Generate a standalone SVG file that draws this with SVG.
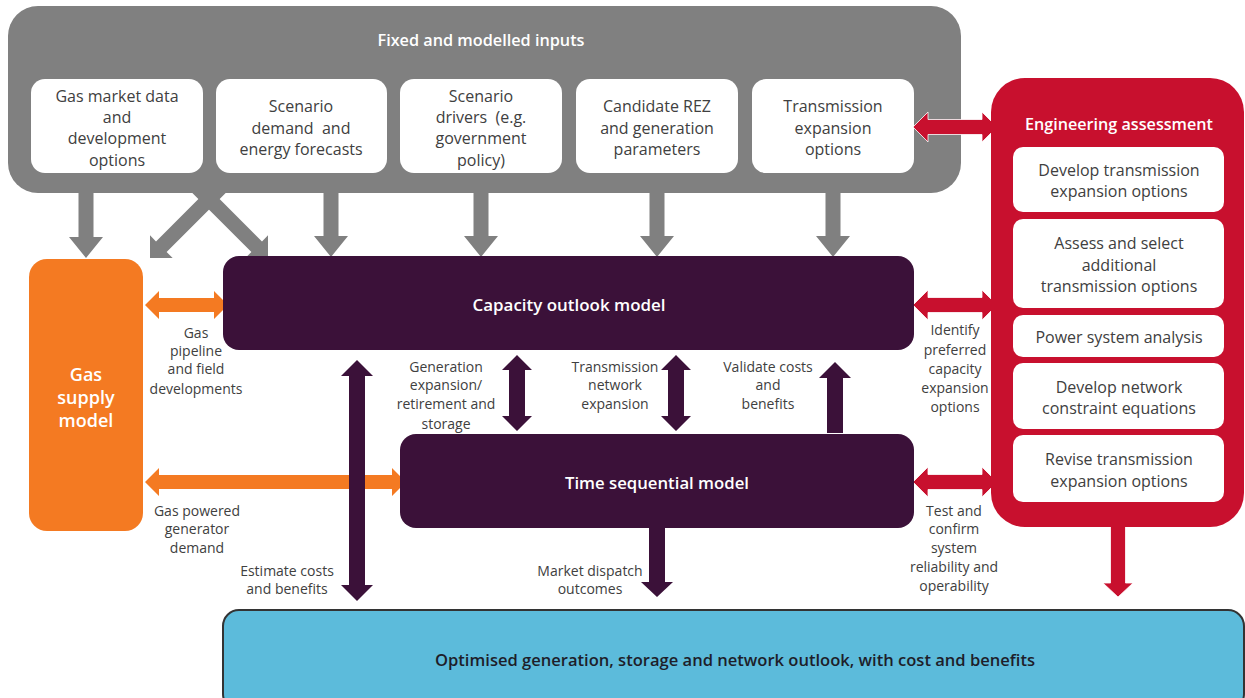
<svg xmlns="http://www.w3.org/2000/svg" width="1245" height="698" viewBox="0 0 1245 698">
<style>
.t{font-family:"Open Sans","Noto Sans",sans-serif;text-anchor:middle}
.box{font-size:16px;fill:#404040}
.lbl{font-size:14px;fill:#404040}
.ttl{font-size:17px;font-weight:600;fill:#ffffff}
.wb{fill:#ffffff}
.gray{fill:#808080}
.pur{fill:#3b1139}
.org{fill:#f47a22}
.red{fill:#c8102e;stroke:#ffffff;stroke-width:0.8}
</style>
<defs>
<path id="gdown" d="M-7.5,-66 H7.5 V-21 H17 L0,0 L-17,-21 H-7.5 Z"/>
<path id="gdiag" d="M-7.5,-125 H7.5 V-16 H16 L0,0 L-16,-16 H-7.5 Z"/>
</defs>
<rect width="1245" height="698" fill="#ffffff"/>

<g id="inputs">
<rect x="8" y="6" width="953" height="187" rx="30" class="gray"/>
<g id="connectors-gray" class="gray">
<use href="#gdiag" transform="translate(150,258) rotate(45)"/>
<use href="#gdiag" transform="translate(268,258) rotate(-45)"/>
</g>
<text x="481" y="46" class="t ttl" textLength="207" lengthAdjust="spacingAndGlyphs">Fixed and modelled inputs</text>
</g>

<g id="in-gas">
<rect x="31" y="79" width="172" height="94" rx="14" class="wb"/>
<text class="t box"><tspan x="117" y="102">Gas market data</tspan><tspan x="117" y="123">and</tspan><tspan x="117" y="144">development</tspan><tspan x="117" y="166">options</tspan></text>
</g>
<g id="in-demand">
<rect x="216" y="79" width="171" height="94" rx="14" class="wb"/>
<text class="t box" style="white-space:pre"><tspan x="301" y="112">Scenario</tspan><tspan x="301" y="134">demand  and</tspan><tspan x="301" y="155">energy forecasts</tspan></text>
</g>
<g id="in-drivers">
<rect x="400" y="79" width="162" height="94" rx="14" class="wb"/>
<text class="t box" style="white-space:pre"><tspan x="481" y="102">Scenario</tspan><tspan x="481" y="123">drivers  (e.g.</tspan><tspan x="481" y="144">government</tspan><tspan x="481" y="166">policy)</tspan></text>
</g>
<g id="in-rez">
<rect x="576" y="79" width="162" height="94" rx="14" class="wb"/>
<text class="t box"><tspan x="657" y="112">Candidate REZ</tspan><tspan x="657" y="134">and generation</tspan><tspan x="657" y="155">parameters</tspan></text>
</g>
<g id="in-trans">
<rect x="752" y="79" width="162" height="94" rx="14" class="wb"/>
<text class="t box"><tspan x="833" y="112">Transmission</tspan><tspan x="833" y="134">expansion</tspan><tspan x="833" y="155">options</tspan></text>
</g>

<g id="connectors">
<g class="gray">
<use href="#gdown" transform="translate(86,258)"/>
<use href="#gdown" transform="translate(331,257)"/>
<use href="#gdown" transform="translate(481,257)"/>
<use href="#gdown" transform="translate(657,257)"/>
<use href="#gdown" transform="translate(833,257)"/>
</g>
<g class="org">
<path d="M145,305 L159,291 V298 H214 V291 L228,305 L214,319 V312 H159 V319 Z"/>
<path d="M145,482 L159,468 V475 H392 V468 L406,482 L392,496 V489 H159 V496 Z"/>
</g>
<g class="red">
<path d="M913,127 L928,112 V119.5 H982 V112 L997,127 L982,142 V134.5 H928 V142 Z"/>
<path d="M913,305 L928,290 V297.5 H982 V290 L997,305 L982,320 V312.5 H928 V320 Z"/>
<path d="M913,482 L928,467 V474.5 H982 V467 L997,482 L982,497 V489.5 H928 V497 Z"/>
<path d="M1110.5,526 H1125.5 V583 H1133 L1118,597 L1103,583 H1110.5 Z"/>
</g>
<g class="pur">
<path d="M357,360 L373,376 H365 V585 H373 L357,601 L341,585 H349 V376 H341 Z"/>
<path d="M517,355 L532,370 H525 V416 H532 L517,431 L502,416 H509 V370 H502 Z"/>
<path d="M676,355 L691,370 H684 V416 H691 L676,431 L661,416 H668 V370 H661 Z"/>
<path d="M835,362 L851,378 H843 V433 H827 V378 H819 Z"/>
<path d="M649,526 H665 V582 H673 L657,597 L641,582 H649 Z"/>
</g>
<g class="t lbl">
<text><tspan x="196" y="338">Gas</tspan><tspan x="196" y="356">pipeline</tspan><tspan x="196" y="374">and field</tspan><tspan x="196" y="394">developments</tspan></text>
<text><tspan x="197" y="516">Gas powered</tspan><tspan x="197" y="534">generator</tspan><tspan x="197" y="553">demand</tspan></text>
<text><tspan x="287" y="576">Estimate costs</tspan><tspan x="287" y="594">and benefits</tspan></text>
<text><tspan x="446" y="372">Generation</tspan><tspan x="446" y="390">expansion/</tspan><tspan x="446" y="409">retirement and</tspan><tspan x="446" y="429">storage</tspan></text>
<text><tspan x="615" y="372">Transmission</tspan><tspan x="615" y="390">network</tspan><tspan x="615" y="409">expansion</tspan></text>
<text><tspan x="768" y="372">Validate costs</tspan><tspan x="768" y="390">and</tspan><tspan x="768" y="409">benefits</tspan></text>
<text><tspan x="590" y="576">Market dispatch</tspan><tspan x="590" y="594">outcomes</tspan></text>
<text><tspan x="955" y="335">Identify</tspan><tspan x="955" y="355">preferred</tspan><tspan x="955" y="374">capacity</tspan><tspan x="955" y="393">expansion</tspan><tspan x="955" y="412">options</tspan></text>
<text><tspan x="954" y="516">Test and</tspan><tspan x="954" y="534">confirm</tspan><tspan x="954" y="553">system</tspan><tspan x="954" y="572">reliability and</tspan><tspan x="954" y="591">operability</tspan></text>
</g>
</g>

<g id="gas-supply">
<rect x="29" y="259" width="114" height="272" rx="18" class="org"/>
<text class="t" style="font-size:18px;font-weight:600;fill:#fff"><tspan x="86" y="381">Gas</tspan><tspan x="86" y="404">supply</tspan><tspan x="86" y="427">model</tspan></text>
</g>

<g id="capacity">
<rect x="223" y="256" width="691" height="94" rx="16" class="pur"/>
<text x="569" y="311" class="t ttl" textLength="193" lengthAdjust="spacingAndGlyphs">Capacity outlook model</text>
</g>

<g id="timeseq">
<rect x="400" y="434" width="514" height="94" rx="16" class="pur"/>
<text x="657" y="489" class="t ttl" textLength="184" lengthAdjust="spacingAndGlyphs">Time sequential model</text>
</g>

<g id="engineering">
<rect x="991" y="78" width="253" height="449" rx="34" fill="#c8102e"/>
<text x="1119" y="130" class="t ttl" textLength="188" lengthAdjust="spacingAndGlyphs">Engineering assessment</text>
<rect x="1013" y="147" width="211" height="65" rx="10" class="wb"/>
<text class="t box"><tspan x="1119" y="176">Develop transmission</tspan><tspan x="1119" y="197">expansion options</tspan></text>
<rect x="1013" y="219" width="211" height="89" rx="10" class="wb"/>
<text class="t box"><tspan x="1119" y="249">Assess and select</tspan><tspan x="1119" y="271">additional</tspan><tspan x="1119" y="292">transmission options</tspan></text>
<rect x="1013" y="315" width="211" height="42" rx="10" class="wb"/>
<text x="1119" y="343" class="t box">Power system analysis</text>
<rect x="1013" y="363" width="211" height="66" rx="10" class="wb"/>
<text class="t box"><tspan x="1119" y="393">Develop network</tspan><tspan x="1119" y="414">constraint equations</tspan></text>
<rect x="1013" y="435" width="211" height="67" rx="10" class="wb"/>
<text class="t box"><tspan x="1119" y="465">Revise transmission</tspan><tspan x="1119" y="487">expansion options</tspan></text>
</g>

<g id="outlook">
<rect x="223" y="610" width="1021" height="100" rx="16" fill="#5cbbdb" stroke="#333333" stroke-width="2"/>
<text x="735" y="666" class="t" style="font-size:17px;font-weight:600;fill:#1e1e2a" textLength="600" lengthAdjust="spacingAndGlyphs">Optimised generation, storage and network outlook, with cost and benefits</text>
</g>
</svg>
